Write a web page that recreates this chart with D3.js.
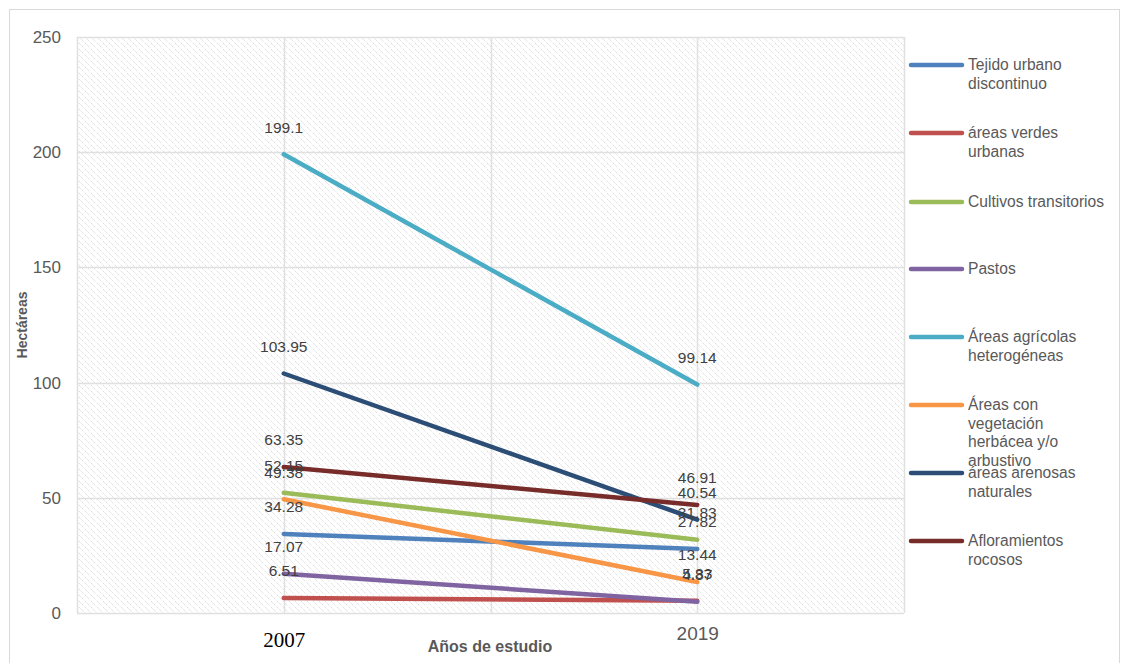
<!DOCTYPE html>
<html><head><meta charset="utf-8">
<script src="https://cdn.jsdelivr.net/npm/d3@7"></script>
<style>body{margin:0;background:#fff}svg{display:block}</style>
</head><body>
<svg id="chart" width="1123" height="663"></svg>
<script>
const years = ["2007", "2019"];
const seriesNames = [
  "Tejido urbano discontinuo",
  "áreas verdes urbanas",
  "Cultivos transitorios",
  "Pastos",
  "Áreas agrícolas heterogéneas",
  "Áreas con vegetación herbácea y/o arbustivo",
  "áreas arenosas naturales",
  "Afloramientos rocosos"
];
const legendLines = [
  ["Tejido urbano", "discontinuo"],
  ["áreas verdes", "urbanas"],
  ["Cultivos transitorios"],
  ["Pastos"],
  ["Áreas agrícolas", "heterogéneas"],
  ["Áreas con", "vegetación", "herbácea y/o", "arbustivo"],
  ["áreas arenosas", "naturales"],
  ["Afloramientos", "rocosos"]
];
const values2007 = [34.28, 6.51, 52.15, 17.07, 199.1, 49.38, 103.95, 63.35];
const values2019 = [27.82, 5.33, 31.83, 4.87, 99.14, 13.44, 40.54, 46.91];
const colors = ["#4f81bd", "#c0504d", "#9bbb59", "#8064a2", "#4bacc6", "#f79646", "#2c4d75", "#772c2a"];
const yTicks = [0, 50, 100, 150, 200, 250];

const svg = d3.select("#chart");
const plot = {left: 77, right: 904, top: 37, bottom: 613};

// outer border
svg.append("rect").attr("x", 9.5).attr("y", 9.5).attr("width", 1110).attr("height", 660)
  .attr("fill", "none").attr("stroke", "#d9d9d9").attr("stroke-width", 1);

const defs = svg.append("defs");
const pat = defs.append("pattern").attr("id", "hatch").attr("patternUnits", "userSpaceOnUse")
  .attr("width", 6).attr("height", 6);
pat.append("path").attr("d", "M-1,-1 L7,7 M-1,5 L1,7 M5,-1 L7,1")
  .attr("stroke", "#d6d6d6").attr("stroke-width", 1).attr("stroke-dasharray", "1.5,1");

const x = d3.scalePoint().domain(years).range([plot.left, plot.right]).padding(0.5);
const y = d3.scaleLinear().domain([0, 250]).range([plot.bottom, plot.top]);

svg.append("rect").attr("x", plot.left).attr("y", plot.top)
  .attr("width", plot.right - plot.left).attr("height", plot.bottom - plot.top)
  .attr("fill", "url(#hatch)");

// horizontal gridlines
svg.append("g").selectAll("line").data(yTicks).join("line")
  .attr("x1", plot.left).attr("x2", plot.right)
  .attr("y1", d => Math.round(y(d)) + 0.5).attr("y2", d => Math.round(y(d)) + 0.5)
  .attr("stroke", "#e0e0e0").attr("stroke-width", 1.5);

// vertical gridlines at half steps
const step = x.step();
const vx = [];
years.forEach((yr, i) => { vx.push(x(yr) - step / 2); vx.push(x(yr)); });
vx.push(x(years[years.length - 1]) + step / 2);
svg.append("g").selectAll("line").data(vx).join("line")
  .attr("x1", d => Math.round(d) + 0.5).attr("x2", d => Math.round(d) + 0.5)
  .attr("y1", plot.top).attr("y2", plot.bottom)
  .attr("stroke", "#e0e0e0").attr("stroke-width", 1.5);

// y axis labels
const yAxis = svg.append("g").attr("transform", `translate(${plot.left - 16},0)`)
  .call(d3.axisLeft(y).tickValues(yTicks).tickSize(0).tickPadding(0).tickFormat(d3.format("d")));
yAxis.select(".domain").remove();
yAxis.selectAll("text").attr("font-family", "Liberation Sans, Arial, sans-serif")
  .attr("font-size", 17).attr("fill", "#595959").attr("dy", "0.32em");

// x axis labels (2007 serif black, 2019 sans gray as in the reference)
const xAxis = svg.append("g").attr("transform", `translate(0,${plot.bottom + 16})`)
  .call(d3.axisBottom(x).tickSize(0).tickPadding(0));
xAxis.select(".domain").remove();
xAxis.selectAll("text")
  .attr("font-family", d => d === "2007" ? "Liberation Serif, Times New Roman, serif" : "Liberation Sans, Arial, sans-serif")
  .attr("font-size", d => d === "2007" ? 21 : 19)
  .attr("fill", d => d === "2007" ? "#000" : "#595959")
  .attr("dy", d => d === "2007" ? "0.85em" : "0.6em");

// axis titles
svg.append("text").attr("transform", "translate(27,325) rotate(-90)")
  .attr("text-anchor", "middle").attr("font-family", "Liberation Sans, Arial, sans-serif")
  .attr("font-weight", "bold").attr("font-size", 14).attr("fill", "#595959").text("Hectáreas");
svg.append("text").attr("x", 490).attr("y", 652)
  .attr("text-anchor", "middle").attr("font-family", "Liberation Sans, Arial, sans-serif")
  .attr("font-weight", "bold").attr("font-size", 16).attr("fill", "#595959").text("Años de estudio");

// lines
const series = seriesNames.map((n, i) => ({name: n, color: colors[i],
  values: [{year: years[0], v: values2007[i]}, {year: years[1], v: values2019[i]}]}));
const line = d3.line().x(d => x(d.year)).y(d => y(d.v));
svg.append("g").selectAll("path").data(series).join("path")
  .attr("d", d => line(d.values)).attr("fill", "none")
  .attr("stroke", d => d.color).attr("stroke-width", 4.5).attr("stroke-linecap", "round");

// data labels
const lab = svg.append("g");
series.forEach(s => {
  s.values.forEach(p => {
    lab.append("text").attr("x", x(p.year)).attr("y", y(p.v) - 27)
      .attr("dy", "0.35em").attr("text-anchor", "middle")
      .attr("font-family", "Liberation Sans, Arial, sans-serif").attr("font-size", 15.5)
      .attr("fill", "#404040").text(p.v);
  });
});

// legend
const lg = svg.append("g");
const legendY = [65, 133, 202, 269, 337, 405, 473, 541];
legendLines.forEach((lines, i) => {
  const g = lg.append("g").attr("transform", `translate(0,${legendY[i]})`);
  g.append("line").attr("x1", 911).attr("x2", 962).attr("y1", 0).attr("y2", 0)
    .attr("stroke", colors[i]).attr("stroke-width", 4.5).attr("stroke-linecap", "round");
  lines.forEach((t, j) => {
    g.append("text").attr("x", 968).attr("y", j * 18.5).attr("dy", "0.35em")
      .attr("font-family", "Liberation Sans, Arial, sans-serif").attr("font-size", 15.6)
      .attr("fill", "#595959").text(t);
  });
});
</script>
</body></html>
